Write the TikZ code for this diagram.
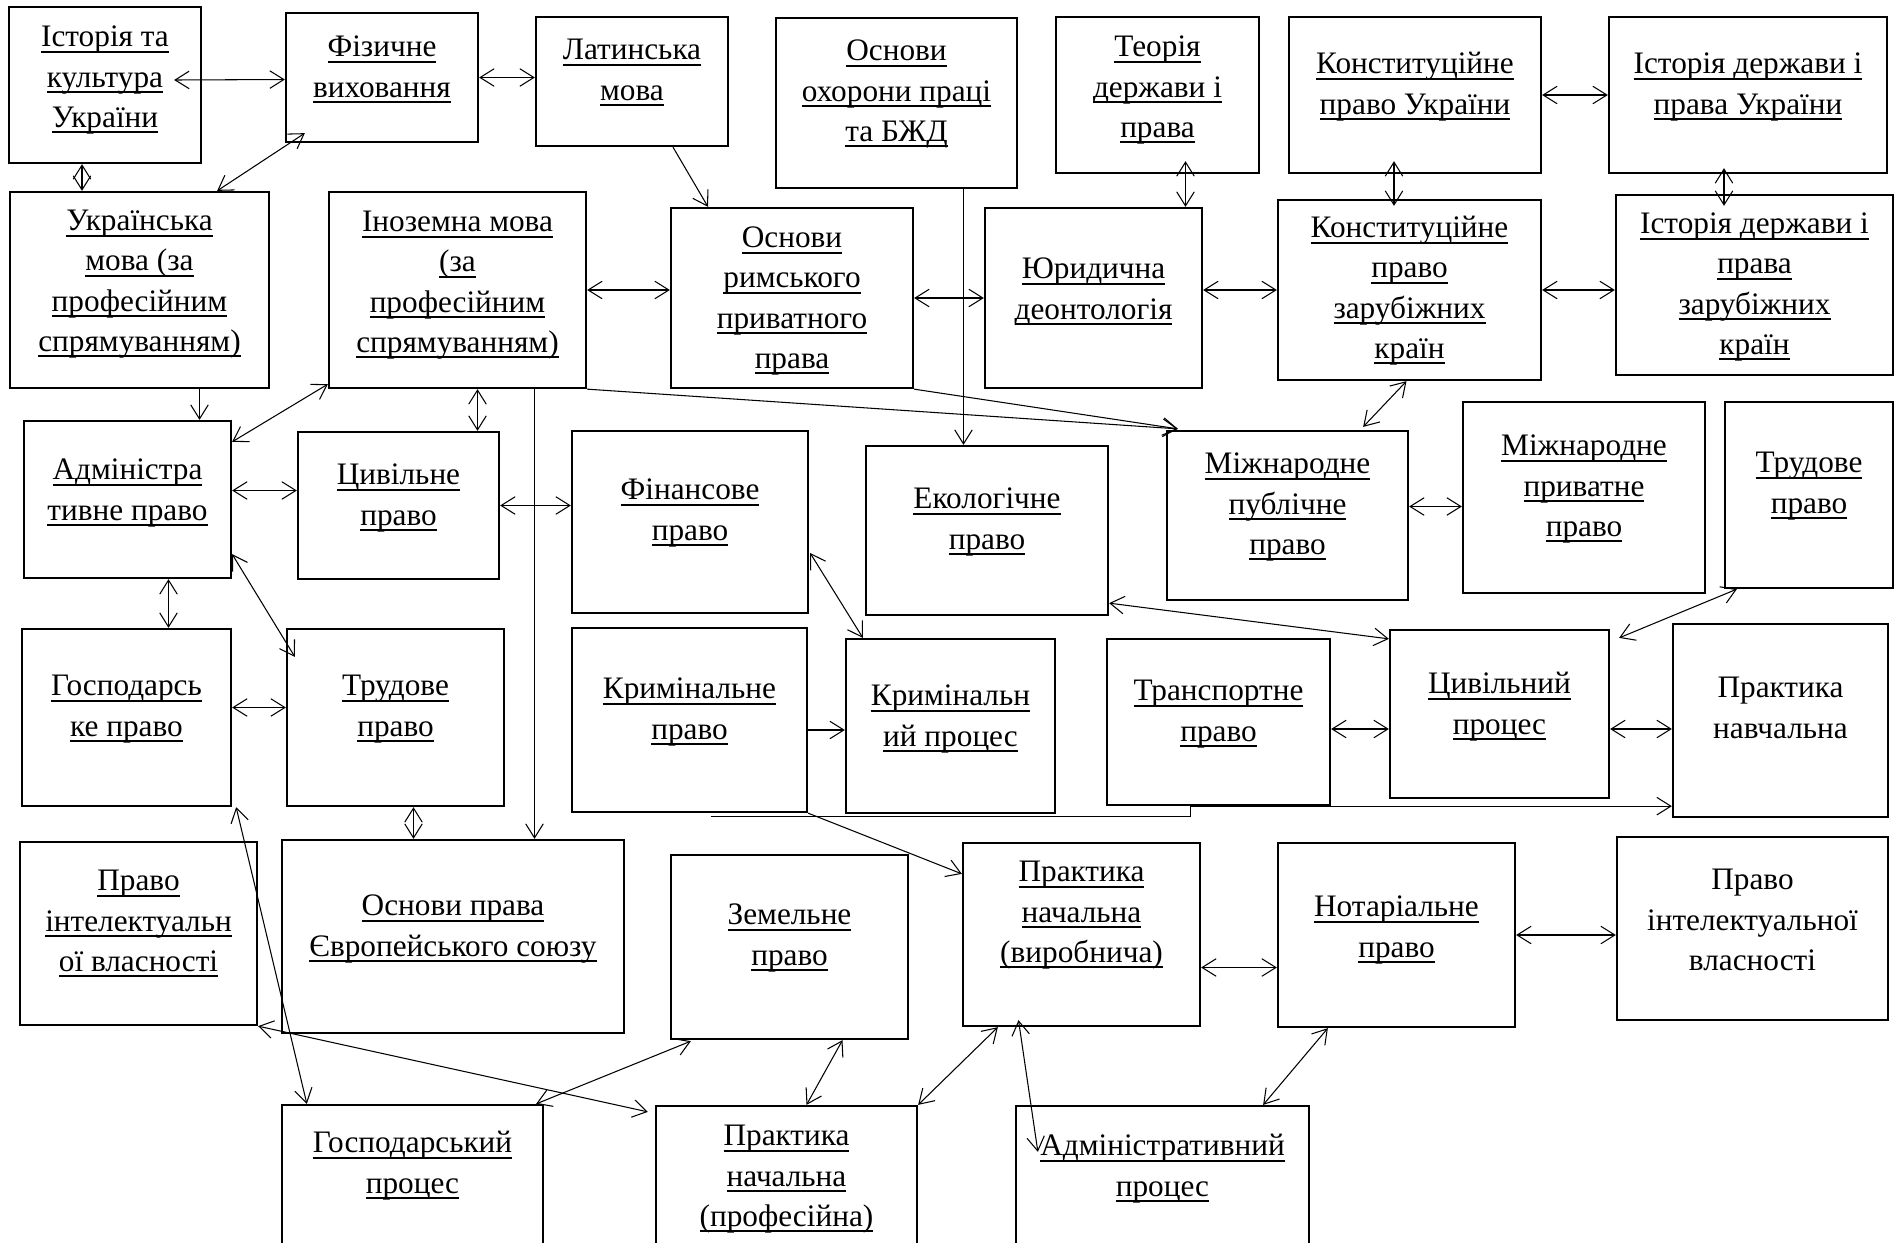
\documentclass[tikz,border=0pt]{standalone}
\usepackage{fontspec}
\setmainfont{Liberation Serif}
\usetikzlibrary{calc,fit,arrows.meta}
\newcommand\lnk[1]{\setbox0\hbox{\strut#1}\rlap{\rule[-3.2pt]{\wd0}{0.9pt}}\box0}
\newcommand\pln[1]{\strut#1}
\def\subj(#1)(#2,#3)(#4,#5)(#6)#7{%
  \node[box, fit={(#2,#3) (#4,#5)}] (#1) {};
  \node[lbl] (#1-t) at ({(#2+#4)/2},#6) {#7};}

\begin{document}
\begin{tikzpicture}[x=0.02cm, y=-0.02cm,
    >={Straight Barb[length=8pt,width=10pt]},
    box/.style={draw, line width=1.3pt, inner sep=0pt},
    lbl/.style={align=center, inner sep=0pt, font=\fontsize{17.8}{22.8}\selectfont},
    link/.style={<->, line width=0.6pt},
    feed/.style={->, line width=0.6pt}]
	%%%%% START %%%%%
	\useasboundingbox (0,0) rectangle (1898,1242);
	\clip (0,0) rectangle (1898,1242);

	\subj(ist)(9,7)(201,163)(79){\lnk{Історія та}\\\lnk{культура}\\\lnk{України}}
	\subj(fiz)(286,13)(478,142)(69){\lnk{Фізичне}\\\lnk{виховання}}
	\subj(lat)(536,17)(728,146)(72){\lnk{Латинська}\\\lnk{мова}}
	\subj(ohr)(776,18)(1017,188)(93){\lnk{Основи}\\\lnk{охорони праці}\\\lnk{та БЖД}}
	\subj(teor)(1056,17)(1259,173)(89){\lnk{Теорія}\\\lnk{держави і}\\\lnk{права}}
	\subj(kukr)(1289,17)(1541,173)(86){\lnk{Конституційне}\\\lnk{право України}}
	\subj(iukr)(1609,17)(1887,173)(86){\lnk{Історія держави і}\\\lnk{права України}}

	\subj(ukr)(10,192)(269,388)(283){\lnk{Українська}\\\lnk{мова (за}\\\lnk{професійним}\\\lnk{спрямуванням)}}
	\subj(ino)(329,192)(586,388)(284){\lnk{Іноземна мова}\\\lnk{(за}\\\lnk{професійним}\\\lnk{спрямуванням)}}
	\subj(rim)(671,208)(913,388)(300){\lnk{Основи}\\\lnk{римського}\\\lnk{приватного}\\\lnk{права}}
	\subj(yur)(985,208)(1202,388)(291){\lnk{Юридична}\\\lnk{деонтологія}}
	\subj(kzar)(1278,200)(1541,380)(290){\lnk{Конституційне}\\\lnk{право}\\\lnk{зарубіжних}\\\lnk{країн}}
	\subj(izar)(1616,195)(1893,375)(286){\lnk{Історія держави і}\\\lnk{права}\\\lnk{зарубіжних}\\\lnk{країн}}

	\subj(adm)(24,421)(231,578)(492){\lnk{Адміністра}\\\lnk{тивне право}}
	\subj(civ)(298,432)(499,579)(497){\lnk{Цивільне}\\\lnk{право}}
	\subj(fin)(572,431)(808,613)(512){\lnk{Фінансове}\\\lnk{право}}
	\subj(ekol)(866,446)(1108,615)(521){\lnk{Екологічне}\\\lnk{право}}
	\subj(mpub)(1167,431)(1408,600)(506){\lnk{Міжнародне}\\\lnk{публічне}\\\lnk{право}}
	\subj(mpriv)(1463,402)(1705,593)(488){\lnk{Міжнародне}\\\lnk{приватне}\\\lnk{право}}
	\subj(trud2)(1725,402)(1893,588)(485){\lnk{Трудове}\\\lnk{право}}

	\subj(gosp)(22,629)(231,806)(708){\lnk{Господарсь}\\\lnk{ке право}}
	\subj(trud)(287,629)(504,806)(708){\lnk{Трудове}\\\lnk{право}}
	\subj(krim)(572,628)(807,812)(711){\lnk{Кримінальне}\\\lnk{право}}
	\subj(kproc)(846,639)(1055,813)(718){\lnk{Кримінальн}\\\lnk{ий процес}}
	\subj(trans)(1107,639)(1330,805)(713){\lnk{Транспортне}\\\lnk{право}}
	\subj(cproc)(1390,630)(1609,798)(706){\lnk{Цивільний}\\\lnk{процес}}
	\subj(prnav)(1673,624)(1888,817)(710){\pln{Практика}\\\pln{навчальна}}

	\subj(pint1)(20,842)(257,1025)(923){\lnk{Право}\\\lnk{інтелектуальн}\\\lnk{ої власності}}
	\subj(eu)(282,840)(624,1033)(928){\lnk{Основи права}\\\lnk{Європейського союзу}}
	\subj(zem)(671,855)(908,1039)(937){\lnk{Земельне}\\\lnk{право}}
	\subj(pvyr)(963,843)(1200,1026)(914){\lnk{Практика}\\\lnk{начальна}\\\lnk{(виробнича)}}
	\subj(notar)(1278,843)(1515,1027)(929){\lnk{Нотаріальне}\\\lnk{право}}
	\subj(pint2)(1617,837)(1888,1020)(922){\pln{Право}\\\pln{інтелектуальної}\\\pln{власності}}

	\subj(gproc)(282,1105)(543,1262)(1165){\lnk{Господарський}\\\lnk{процес}}
	\subj(pprof)(656,1106)(917,1262)(1178){\lnk{Практика}\\\lnk{начальна}\\\lnk{(професійна)}}
	\subj(admp)(1016,1106)(1309,1262)(1168){\lnk{Адміністративний}\\\lnk{процес}}

	%%%%% links %%%%%
	\draw[link] ($(ist.east)+(-28,-5)$) -- ($(fiz.west)+(0,2)$);
	\draw[link] (fiz.east) -- (fiz.east -| lat.west);
	\draw[link] ($(ist.south)+(-23,0)$) coordinate (c1) -- (c1 |- ukr.north);
	\draw[link] ($(fiz.south west)+(20,-10)$) -- ($(ukr.north east)+(-53,0)$);
	\draw[feed] ($(lat.south)+(41,0)$) -- ($(rim.north)+(-84,0)$);
	\draw[feed] ($(ohr.south)+(67,0)$) coordinate (c2) -- (c2 |- ekol.north);
	\draw[link] ($(teor.south)+(28,-13)$) coordinate (c3) -- (c3 |- yur.north);
	\draw[link] (kukr.east) -- (kukr.east -| iukr.west);
	\draw[link] ($(kukr.south)+(-21,-13)$) coordinate (c4) -- ($(c4 |- kzar.north)+(0,7)$);
	\draw[link] ($(iukr.south)+(-24,-6)$) coordinate (c5) -- ($(c5 |- izar.north)+(0,12)$);
	\draw[link] (ino.east) -- (ino.east -| rim.west);
	\draw[link] (rim.east) -- (rim.east -| yur.west);
	\draw[link] (kzar.west -| yur.east) -- (kzar.west);
	\draw[link] (kzar.east) -- (kzar.east -| izar.west);

	\draw[feed] ($(ukr.south)+(60,0)$) coordinate (c6) -- (c6 |- adm.north);
	\draw[link] ($(ino.south west)+(0,-5)$) -- ($(adm.north east)+(0,22)$);
	\draw[link] ($(ino.south)+(20,0)$) coordinate (c7) -- (c7 |- civ.north);
	\draw[feed] ($(ino.south)+(77,0)$) coordinate (c8) -- (c8 |- eu.north);
	\coordinate (mp) at ($(mpub.north west)+(12,-1)$);
	\draw[feed] (ino.south east) -- (mp);
	\draw[feed] (rim.south east) -- (mp);
	\draw[link] ($(kzar.south)+(-3,0)$) -- ($(mpub.north east)+(-46,-3)$);

	\draw[link] ($(adm.east)+(0,-9)$) coordinate (c9) -- (c9 -| civ.west);
	\draw[link] (civ.east) -- (civ.east -| fin.west);
	\draw[link] ($(mpub.east)+(0,-9)$) coordinate (c10) -- (c10 -| mpriv.west);
	\draw[link] ($(adm.south)+(41,0)$) coordinate (c11) -- (c11 |- gosp.north);
	\draw[link] ($(adm.south east)+(0,-25)$) -- ($(trud.north west)+(9,29)$);
	\draw[link] ($(fin.east)+(1,31)$) -- ($(kproc.north west)+(18,0)$);
	\draw[link] ($(ekol.south east)+(0,-13)$) -- ($(cproc.north west)+(0,10)$);
	\draw[link] ($(trud2.south west)+(13,0)$) -- ($(cproc.north east)+(9,9)$);

	\draw[link] ($(gosp.east)+(0,-10)$) coordinate (c12) -- (c12 -| trud.west);
	\draw[feed] ($(krim.east)+(0,10)$) coordinate (c13) -- (c13 -| kproc.west);
	\draw[link] ($(trans.east)+(0,7)$) coordinate (c14) -- (c14 -| cproc.west);
	\draw[link] ($(cproc.east)+(0,15)$) coordinate (c15) -- (c15 -| prnav.west);
	\draw[feed] ($(krim.south)+(21,3)$) -- ($(trans.south)+(-28,10)$) -- ($(trans.south)+(-28,0)$) -- (trans.south -| prnav.west);
	\draw[feed] (krim.south east) -- ($(pvyr.north west)+(0,32)$);
	\draw[link] ($(trud.south)+(18,0)$) coordinate (c16) -- (c16 |- eu.north);
	\draw[link] ($(gosp.south east)+(4,0)$) -- ($(gproc.north west)+(26,0)$);

	\draw[link] (pint1.south east) -- ($(pprof.north west)+(-7,7)$);
	\draw[link] ($(gproc.north east)+(-8,0)$) -- ($(zem.south west)+(21,1)$);
	\draw[link] ($(zem.south)+(53,0)$) -- ($(pprof.north)+(20,0)$);
	\draw[link] ($(pvyr.south west)+(36,0)$) -- (pprof.north east);
	\draw[link] ($(pvyr.south)+(-63,-7)$) -- ($(admp.north west)+(23,47)$);
	\draw[link] ($(pvyr.east)+(0,33)$) coordinate (c17) -- (c17 -| notar.west);
	\draw[link] (notar.east) -- (notar.east -| pint2.west);
	\draw[link] ($(notar.south west)+(51,0)$) -- ($(admp.north east)+(-47,0)$);
	%%%%% END %%%%%
\end{tikzpicture}
\end{document}
